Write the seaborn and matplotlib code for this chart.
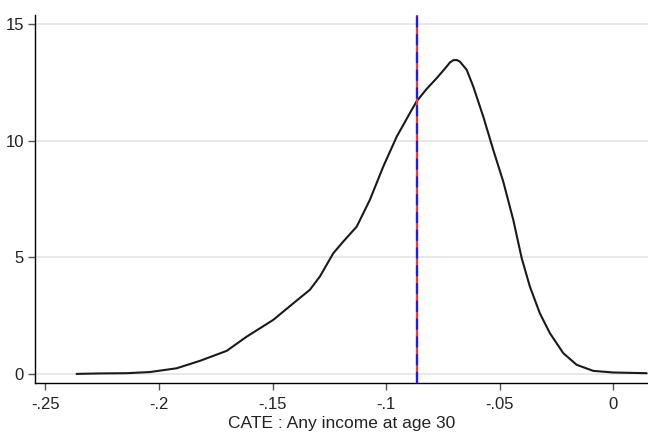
import matplotlib
matplotlib.use("Agg")
import matplotlib.pyplot as plt
import seaborn as sns
import pandas as pd

# Data (kernel density of CATE)
cate = [-0.2363, -0.2260, -0.2143, -0.2040, -0.1923, -0.1820, -0.1702, -0.1614,
        -0.1497, -0.1409, -0.1336, -0.1292, -0.1233, -0.1189, -0.1130, -0.1072,
        -0.1013, -0.0954, -0.0896, -0.0866, -0.0822, -0.0778, -0.0734, -0.0720,
        -0.0705, -0.0690, -0.0676, -0.0646, -0.0617, -0.0573, -0.0529, -0.0485,
        -0.0441, -0.0404, -0.0368, -0.0324, -0.0280, -0.0221, -0.0162, -0.0089,
        -0.0001, 0.0146]
density = [0.00, 0.02, 0.03, 0.08, 0.24, 0.56, 0.99, 1.60,
           2.32, 3.03, 3.61, 4.18, 5.18, 5.68, 6.32, 7.47,
           8.90, 10.18, 11.19, 11.70, 12.23, 12.69, 13.19, 13.36,
           13.46, 13.47, 13.40, 13.05, 12.33, 11.04, 9.61, 8.25,
           6.61, 4.97, 3.75, 2.60, 1.75, 0.89, 0.39, 0.13,
           0.06, 0.03]
mean_cate = -0.0864
xticks = [-0.25, -0.2, -0.15, -0.1, -0.05, 0]
xtick_labels = ["-.25", "-.2", "-.15", "-.1", "-.05", "0"]
yticks = [0, 5, 10, 15]
xlabel = "CATE : Any income at age 30"

df = pd.DataFrame({"cate": cate, "density": density})

sns.set_theme(style="white")
plt.rcParams["font.family"] = ["Liberation Sans", "DejaVu Sans"]

fig = plt.figure(figsize=(6.48, 4.36), dpi=100)
ax = fig.add_axes([0.054, 0.1216, 0.946, 0.844])

for y in yticks:
    ax.axhline(y, color="#e6e6e6", lw=1.3, zorder=0)

sns.lineplot(data=df, x="cate", y="density", ax=ax, color="#1a1a1a", lw=1.5)
ax.axvline(mean_cate, color="#ff3030", lw=1.6, zorder=3)
ax.axvline(mean_cate, color="#1a1aff", lw=1.6, ls=(0, (5, 3)), zorder=4)

ax.set_xlim(-0.2546, 0.0152)
ax.set_ylim(-0.39, 15.4)
ax.set_xticks(xticks)
ax.set_xticklabels(xtick_labels)
ax.set_yticks(yticks)
ax.set_xlabel(xlabel, fontsize=12.5, color="#222222", labelpad=3)
ax.set_ylabel("")

for s in ["top", "right"]:
    ax.spines[s].set_visible(False)
for s in ["left", "bottom"]:
    ax.spines[s].set_color("black")
    ax.spines[s].set_linewidth(1.0)

ax.tick_params(axis="both", which="major", length=5, width=1, color="#555555",
               labelsize=12, labelcolor="#222222", direction="out",
               left=True, bottom=True)
ax.tick_params(axis="x", pad=5)
ax.tick_params(axis="y", pad=3)

fig.savefig("out.png", dpi=100)
